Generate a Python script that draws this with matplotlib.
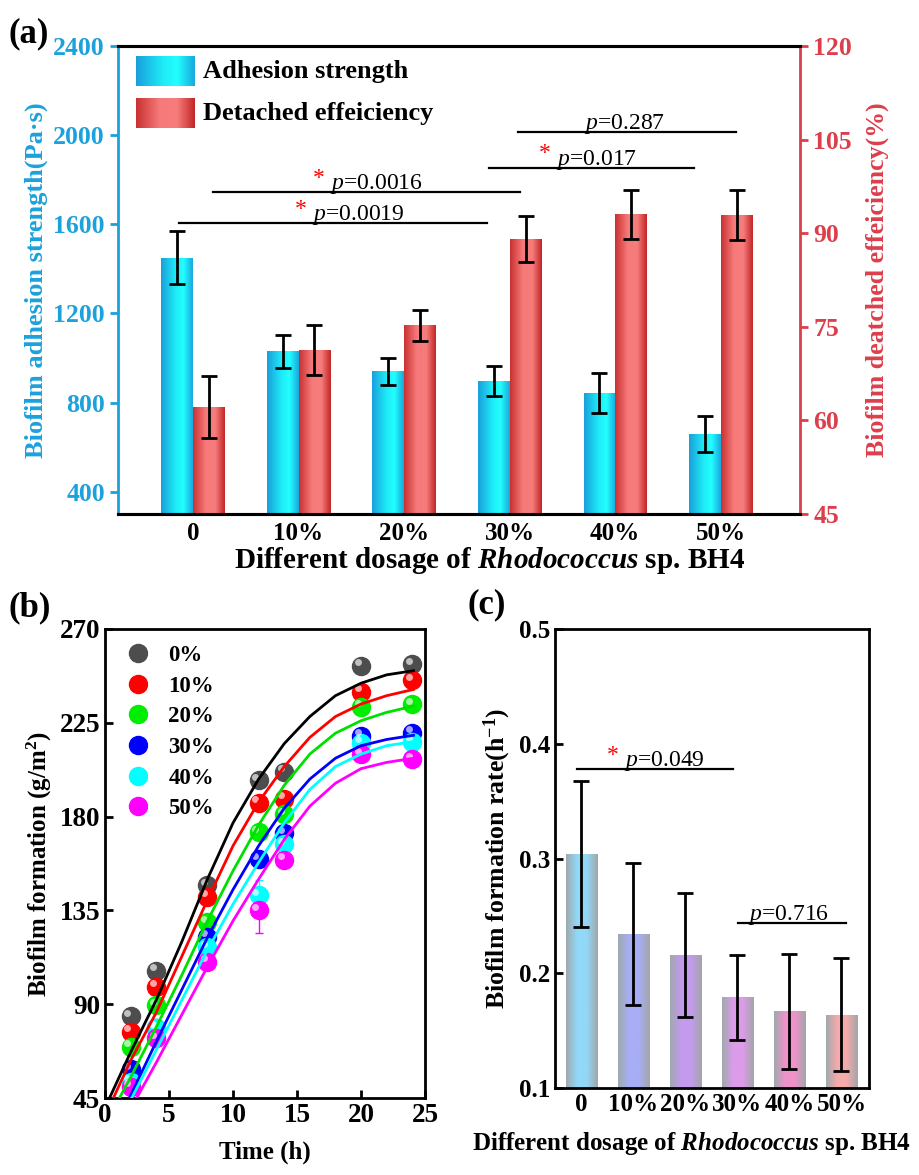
import numpy as np
import matplotlib
matplotlib.use("Agg")
import matplotlib.pyplot as plt
from matplotlib.colors import LinearSegmentedColormap
from matplotlib.transforms import ScaledTranslation
from matplotlib.legend_handler import HandlerTuple
from matplotlib.lines import Line2D

plt.rcParams['font.family'] = 'Liberation Serif'
plt.rcParams['font.weight'] = 'bold'
plt.rcParams['axes.labelweight'] = 'bold'
plt.rcParams['mathtext.fontset'] = 'custom'
plt.rcParams['mathtext.rm'] = 'Liberation Serif:normal'
plt.rcParams['mathtext.it'] = 'Liberation Serif:italic:normal'
plt.rcParams['mathtext.bf'] = 'Liberation Serif:bold'
plt.rcParams['mathtext.sf'] = 'Liberation Serif:bold:italic'

# ---------------- data ----------------
dosage = ['0', '10%', '20%', '30%', '40%', '50%']

# (a) adhesion strength (left axis) and detached efficiency (right axis)
adhesion = [1450, 1030, 940, 895, 843, 660]
adhesion_err = [120, 75, 60, 68, 88, 80]
detached = [62.1, 71.2, 75.2, 89.1, 93.0, 92.9]
detached_err = [5.0, 4.0, 2.5, 3.7, 3.9, 4.0]

# significance brackets (a): x from, x to, y (left axis), text x, label, star
sig_a_x0 = [-0.13, 0.19, 2.80, 3.08]
sig_a_x1 = [2.79, 3.10, 4.75, 5.14]
sig_a_y = [1605, 1745, 1854, 2014]
sig_a_tx = [1.13, 1.30, 3.44, 3.70]
sig_a_lab = ['0.0019', '0.0016', '0.017', '0.287']
sig_a_star = [True, True, True, False]

# (b) biofilm formation vs time
time_h = [2, 4, 8, 12, 14, 20, 24]
groups = ['0%', '10%', '20%', '30%', '40%', '50%']
form_0 = [84.3, 106, 147, 197.5, 201.5, 252.4, 253.2]
form_10 = [76.8, 98.4, 141.6, 186.7, 188.6, 239.9, 245.5]
form_20 = [69.6, 89.6, 129.3, 172.4, 181.1, 232.7, 234.0]
form_30 = [58.7, 78.4, 122.4, 159.5, 172.0, 218.7, 220.3]
form_40 = [52.8, 78.7, 117.3, 142.4, 166.8, 215.5, 216.0]
form_50 = [50.4, 73.6, 110.4, 135.2, 159.2, 210.0, 207.5]
form_err_0 = [2, 2, 2, 2, 2, 2, 2]
form_err_10 = [2, 2, 2, 2, 2, 3, 2]
form_err_20 = [2, 2, 2, 3, 3, 4, 3]
form_err_30 = [3, 2, 2, 2, 2, 3, 3]
form_err_40 = [2, 3, 3, 7, 3, 3, 3]
form_err_50 = [2, 2, 2, 11, 2, 3, 3]

# fitted curves
fit_t_0 = [0.35, 2, 4, 6, 8, 10, 12, 14, 16, 18, 20, 22, 24.1]
fit_0 = [45, 67, 92, 120, 150, 177, 198, 215, 228, 238, 244, 248, 250]
fit_t_10 = [0.65, 2, 4, 6, 8, 10, 12, 14, 16, 18, 20, 22, 24.1]
fit_10 = [45, 63, 86, 113, 140, 166, 187, 204, 218, 228, 234, 238, 241]
fit_t_20 = [1.12, 2, 4, 6, 8, 10, 12, 14, 16, 18, 20, 22, 24.1]
fit_20 = [45, 55, 79, 104, 130, 154, 176, 195, 210, 220, 226, 230, 233]
fit_t_30 = [1.9, 4, 6, 8, 10, 12, 14, 16, 18, 20, 22, 24.1]
fit_30 = [45, 72, 97, 122, 145, 166, 184, 198, 208, 214, 217, 219]
fit_t_40 = [2.08, 4, 6, 8, 10, 12, 14, 16, 18, 20, 22, 24.1]
fit_40 = [45, 68, 92, 116, 138, 158, 177, 193, 204, 210, 214, 216]
fit_t_50 = [2.47, 4, 6, 8, 10, 12, 14, 16, 18, 20, 22, 24.1]
fit_50 = [45, 62, 85, 108, 130, 150, 169, 185, 196, 203, 206, 208]

# (c) biofilm formation rate
rate = [0.304, 0.234, 0.216, 0.179, 0.167, 0.164]
rate_err = [0.064, 0.062, 0.054, 0.037, 0.050, 0.049]
sig_c_x0 = [-0.09, 3.01]
sig_c_x1 = [2.91, 5.09]
sig_c_y = [0.378, 0.244]
sig_c_tx = [0.82, 3.20]
sig_c_lab = ['0.049', '0.716']
sig_c_star = [True, False]

# ---------------- helpers ----------------
def gradient_fill(ax, bars, stops):
    cmap = LinearSegmentedColormap.from_list('g', stops)
    img = cmap(np.linspace(0, 1, 120))[np.newaxis, :, :]
    for b in bars:
        x0, y0, w, h = b.get_x(), b.get_y(), b.get_width(), b.get_height()
        im = ax.imshow(img, extent=[x0, x0 + w, y0, y0 + h], aspect='auto',
                       interpolation='bilinear', zorder=b.get_zorder() + 0.1)
        im.set_clip_path(b)


def sig_text(ax, x, y, lab, star, size=17):
    ax.annotate('$p$=' + lab, (x, y), xytext=(0, 2), textcoords='offset points',
                ha='left', va='baseline', fontsize=size, fontweight='normal', zorder=6)
    if star:
        ax.annotate('*', (x, y), xytext=(-4, 6), textcoords='offset points',
                    ha='right', va='baseline', fontsize=size, color='red',
                    fontweight='normal', zorder=6)


blue_ax = '#1BA1DC'
red_ax = '#DC3F4C'
blue_stops = [(0, '#1A9FDB'), (0.45, '#1EEAF6'), (0.7, '#22FFFF'), (1, '#1AA8DE')]
red_stops = [(0, '#C93131'), (0.4, '#F67A7A'), (0.7, '#F77C7C'), (1, '#C22727')]

fig = plt.figure(figsize=(9.19, 11.75), dpi=100)

# ---------------- panel (a) ----------------
ax = fig.add_axes([0.1284, 0.5626, 0.7421, 0.3983])
ax2 = ax.twinx()
x = np.arange(len(dosage))
w = 0.3
bars1 = ax.bar(x - w / 2, np.array(adhesion) - 300, w, bottom=300, color='#1EEAF6',
               edgecolor='none', zorder=2)
gradient_fill(ax, bars1, blue_stops)
ax.errorbar(x - w / 2, adhesion, yerr=adhesion_err, fmt='none', ecolor='black',
            elinewidth=2, capsize=6, capthick=2, zorder=5)
bars2 = ax2.bar(x + w / 2, np.array(detached) - 45, w, bottom=45, color='#F67A7A',
                edgecolor='none', zorder=2)
gradient_fill(ax2, bars2, red_stops)
ax2.errorbar(x + w / 2, detached, yerr=detached_err, fmt='none', ecolor='black',
             elinewidth=2, capsize=6, capthick=2, zorder=5)

for i in range(len(sig_a_y)):
    ax.plot([sig_a_x0[i], sig_a_x1[i]], [sig_a_y[i], sig_a_y[i]], color='black', lw=1.6, zorder=6)
    sig_text(ax, sig_a_tx[i], sig_a_y[i], sig_a_lab[i], sig_a_star[i])

ax.set_yticks([400, 800, 1200, 1600, 2000, 2400])
ax2.set_yticks([45, 60, 75, 90, 105, 120])
ax.set_xticks(x)
ax.set_xticklabels(dosage)
ax.tick_params(axis='x', length=0, labelsize=18, pad=6)
ax.tick_params(axis='y', colors=blue_ax, direction='out', length=6, width=2, labelsize=18.5)
ax2.tick_params(axis='y', colors=red_ax, direction='out', length=6, width=2, labelsize=18.5)
for lab in ax.get_yticklabels() + ax2.get_yticklabels() + ax.get_xticklabels():
    lab.set_fontweight('bold')
ax.spines['left'].set_color(blue_ax)
ax.spines['left'].set_linewidth(2)
ax2.spines['left'].set_visible(False)
ax.spines['right'].set_visible(False)
ax2.spines['right'].set_color(red_ax)
ax2.spines['right'].set_linewidth(2)
for a in (ax, ax2):
    a.spines['top'].set_linewidth(2.2)
    a.spines['bottom'].set_linewidth(2.2)
ax.set_ylabel('Biofilm adhesion strength(Pa·s)', color=blue_ax, fontsize=19, labelpad=4)
ax2.set_ylabel('Biofilm deatched effeiciency(%)', color=red_ax, fontsize=18.6, labelpad=10)
ax.set_xlabel('Different dosage of $\\mathsf{Rhodococcus}$ sp. BH4', fontsize=21)
ax.xaxis.set_label_coords(0.545, -0.067)

# legend of panel (a), drawn by hand to keep the gradient
leg_cmap_b = LinearSegmentedColormap.from_list('lb', blue_stops)
leg_cmap_r = LinearSegmentedColormap.from_list('lr', red_stops)
ramp = np.linspace(0, 1, 120)
ax.imshow(leg_cmap_b(ramp)[np.newaxis], extent=[0.0264, 0.1129, 0.9145, 0.9765],
          transform=ax.transAxes, aspect='auto', zorder=4)
ax.imshow(leg_cmap_r(ramp)[np.newaxis], extent=[0.0264, 0.1129, 0.8248, 0.8868],
          transform=ax.transAxes, aspect='auto', zorder=4)
ax.text(0.1246, 0.9455, 'Adhesion strength', transform=ax.transAxes, fontsize=19,
        va='center', ha='left')
ax.text(0.1246, 0.8558, 'Detached effeiciency', transform=ax.transAxes, fontsize=19,
        va='center', ha='left')
ax.set_xlim(-0.71, 5.75)
ax2.set_xlim(-0.71, 5.75)
ax.set_ylim(300, 2400)
ax2.set_ylim(45, 120)

# ---------------- panel (b) ----------------
bx = fig.add_axes([0.1143, 0.0655, 0.3482, 0.3992])
colors_b = ['#4D4D4D', '#FF0000', '#00EE00', '#0000FF', '#00FFFF', '#FF00FF']
line_cols = ['black', '#FF0000', '#00E000', '#0000FF', '#00FFFF', '#FF00FF']
form = [form_0, form_10, form_20, form_30, form_40, form_50]
form_err = [form_err_0, form_err_10, form_err_20, form_err_30, form_err_40, form_err_50]
fit_t = [fit_t_0, fit_t_10, fit_t_20, fit_t_30, fit_t_40, fit_t_50]
fit_y = [fit_0, fit_10, fit_20, fit_30, fit_40, fit_50]
hl = bx.transData + ScaledTranslation(-2.5 / 72, 2.5 / 72, fig.dpi_scale_trans)
handles = []
for i in range(len(groups)):
    c = colors_b[i]
    bx.errorbar(time_h, form[i], yerr=form_err[i], fmt='none', ecolor=c,
                elinewidth=1, capsize=3, zorder=2)
    bx.plot(time_h, form[i], 'o', ms=13, color=c, mec=c, zorder=3)
    bx.plot(time_h, form[i], 'o', ms=5, color='white', mec='none', alpha=0.65,
            transform=hl, zorder=3.1)
    bx.plot(fit_t[i], fit_y[i], '-', color=line_cols[i], lw=2, zorder=4)
    h1 = Line2D([], [], marker='o', ls='none', ms=13, color=c, mec=c)
    h2 = Line2D([], [], marker='o', ls='none', ms=5, color='white', mec='none', alpha=0.65)
    handles.append((h1, h2))
bx.legend(handles, groups, handler_map={tuple: HandlerTuple(ndivide=None, pad=0)},
          loc='upper left', frameon=False, fontsize=16.5, handlelength=1.2,
          handletextpad=0.45, labelspacing=0.42, borderaxespad=0.3,
          bbox_to_anchor=(0.03, 1.0))
bx.set_xlim(0, 25)
bx.set_ylim(45, 270)
bx.set_xticks([0, 5, 10, 15, 20, 25])
bx.set_yticks([45, 90, 135, 180, 225, 270])
bx.tick_params(direction='in', length=6, width=2, labelsize=19.5)
for lab in bx.get_xticklabels() + bx.get_yticklabels():
    lab.set_fontweight('bold')
for s in bx.spines.values():
    s.set_linewidth(2)
bx.set_xlabel('Time (h)', fontsize=18, labelpad=9)
bx.set_ylabel('Biofilm formation (g/m$^\\mathbf{2}$)', fontsize=18, labelpad=4)

# ---------------- panel (c) ----------------
cx = fig.add_axes([0.6039, 0.0740, 0.3417, 0.3906])
bar_cols = ['#92D8F8', '#A8AEF6', '#C49AEE', '#DC9CEA', '#F092CA', '#F6AAAA']
xc = np.arange(len(dosage))
bars3 = cx.bar(xc, np.array(rate) - 0.1, 0.6, bottom=0.1, color=bar_cols,
               edgecolor='none', zorder=2)
for b, c in zip(bars3, bar_cols):
    gradient_fill(cx, [b], [(0, '#9FA9AE'), (0.35, c), (0.65, c), (1, '#A2A6A8')])
cx.errorbar(xc, rate, yerr=rate_err, fmt='none', ecolor='black', elinewidth=2,
            capsize=6, capthick=2, zorder=5)
for i in range(len(sig_c_y)):
    cx.plot([sig_c_x0[i], sig_c_x1[i]], [sig_c_y[i], sig_c_y[i]], color='black', lw=1.6, zorder=6)
    sig_text(cx, sig_c_tx[i], sig_c_y[i], sig_c_lab[i], sig_c_star[i])
cx.set_xlim(-0.51, 5.53)
cx.set_ylim(0.1, 0.5)
cx.set_yticks([0.1, 0.2, 0.3, 0.4, 0.5])
cx.set_xticks(xc)
cx.set_xticklabels(dosage)
cx.tick_params(direction='in', length=6, width=2, labelsize=18)
for lab in cx.get_xticklabels() + cx.get_yticklabels():
    lab.set_fontweight('bold')
for s in cx.spines.values():
    s.set_linewidth(2)
cx.set_ylabel('Biofilm formation rate(h$^{\\mathbf{-1}}$)', fontsize=18.5)
cx.set_xlabel('Different dosage of $\\mathsf{Rhodococcus}$ sp. BH4', fontsize=18)
cx.xaxis.set_label_coords(0.436, -0.092)

# panel letters
fig.text(0.009, 0.971, '(a)', fontsize=25, va='center', ha='left')
fig.text(0.009, 0.483, '(b)', fontsize=25, va='center', ha='left')
fig.text(0.509, 0.485, '(c)', fontsize=25, va='center', ha='left')

fig.savefig('out.png', dpi=100)
